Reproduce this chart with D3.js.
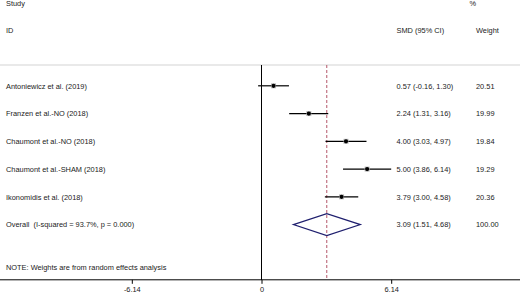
<!DOCTYPE html>
<html><head><meta charset="utf-8">
<script src="https://cdn.jsdelivr.net/npm/d3@7"></script>
<style>body{margin:0;background:#fff}svg{display:block}text{font-family:"Liberation Sans",Arial,sans-serif;font-size:7.4px;fill:#1a1a1a;white-space:pre}</style>
</head><body><svg id="c" width="520" height="295"></svg>
<script>
const studies = ["Antoniewicz et al. (2019)","Franzen et al.-NO (2018)","Chaumont et al.-NO (2018)","Chaumont et al.-SHAM (2018)","Ikonomidis et al. (2018)"];
const smd = [0.57, 2.24, 4.00, 5.00, 3.79];
const lower = [-0.16, 1.31, 3.03, 3.86, 3.00];
const upper = [1.30, 3.16, 4.97, 6.14, 4.58];
const weights = ["20.51","19.99","19.84","19.29","20.36"];
const overall = {label:"Overall  (I-squared = 93.7%, p = 0.000)", est:3.09, lo:1.51, hi:4.68, weight:"100.00"};
const tickValues = [-6.14, 0, 6.14];
const fmt = v => v.toFixed(2);

const svg = d3.select("#c");
const x = d3.scaleLinear().domain([-6.14, 6.14]).range([131.8, 391.2]);
const rows = studies.concat([overall.label]);
const y = d3.scalePoint().domain(rows).range([85.8, 224.6]);

// top separator
svg.append("line").attr("x1",0).attr("x2",520).attr("y1",65).attr("y2",65).attr("stroke","#d4d4d4").attr("stroke-width",1.2);

// headers
const hdr = [["Study",6,5.5],["ID",6,33.3],["%",469.5,5.5],["SMD (95% CI)",396.5,33.3],["Weight",476,33.3]];
svg.selectAll("text.h").data(hdr).join("text").attr("class","h").attr("x",d=>d[1]).attr("y",d=>d[2]).text(d=>d[0]);

// zero line
svg.append("line").attr("x1",x(0)).attr("x2",x(0)).attr("y1",65).attr("y2",280).attr("stroke","#000").attr("stroke-width",1);
// overall dashed
svg.append("line").attr("x1",x(overall.est)).attr("x2",x(overall.est)).attr("y1",65).attr("y2",280).attr("stroke","#b5566a").attr("stroke-width",1).attr("stroke-dasharray","3,2");

// CIs
const data = studies.map((s,i)=>({s, e:smd[i], lo:lower[i], hi:upper[i], w:weights[i]}));
svg.selectAll("line.ci").data(data).join("line").attr("class","ci")
  .attr("x1",d=>x(d.lo)).attr("x2",d=>x(d.hi)).attr("y1",d=>y(d.s)).attr("y2",d=>y(d.s))
  .attr("stroke","#000").attr("stroke-width",1.2);
svg.selectAll("rect.box").data(data).join("rect").attr("class","box")
  .attr("x",d=>x(d.e)-2.5).attr("y",d=>y(d.s)-2.5).attr("width",5).attr("height",5).attr("fill","#bbb");
svg.selectAll("circle.pt").data(data).join("circle").attr("class","pt")
  .attr("cx",d=>x(d.e)).attr("cy",d=>y(d.s)).attr("r",2.1).attr("fill","#000");

// diamond
const yo = y(overall.label);
svg.append("polygon").attr("points",[[x(overall.lo),yo],[x(overall.est),yo-11],[x(overall.hi),yo],[x(overall.est),yo+11]].map(p=>p.join(",")).join(" "))
  .attr("fill","none").attr("stroke","#1f1f6e").attr("stroke-width",1.2);

// row texts
const rowData = data.map(d=>({label:d.s, ci:`${fmt(d.e)} (${fmt(d.lo)}, ${fmt(d.hi)})`, w:d.w}))
  .concat([{label:overall.label, ci:`${fmt(overall.est)} (${fmt(overall.lo)}, ${fmt(overall.hi)})`, w:overall.weight}]);
svg.selectAll("text.lab").data(rowData).join("text").attr("class","lab").attr("x",6).attr("y",d=>y(d.label)+2.7).text(d=>d.label);
svg.selectAll("text.ci").data(rowData).join("text").attr("class","ci").attr("x",396.5).attr("y",d=>y(d.label)+2.7).text(d=>d.ci);
svg.selectAll("text.w").data(rowData).join("text").attr("class","w").attr("x",476).attr("y",d=>y(d.label)+2.7).text(d=>d.w);

svg.append("text").attr("x",6).attr("y",269.5).text("NOTE: Weights are from random effects analysis");

// axis
svg.append("line").attr("x1",0).attr("x2",520).attr("y1",279.8).attr("y2",279.8).attr("stroke","#000").attr("stroke-width",1);
const ax = svg.append("g").attr("transform","translate(0,279.8)")
  .call(d3.axisBottom(x).tickValues(tickValues).tickSize(4).tickPadding(3).tickFormat(d=>d===0?"0":fmt(d)));
ax.select(".domain").remove();
ax.selectAll("text").attr("font-size",null).attr("font-family",null).style("fill","#1a1a1a");
ax.selectAll("line").attr("stroke","#000");
</script></body></html>
